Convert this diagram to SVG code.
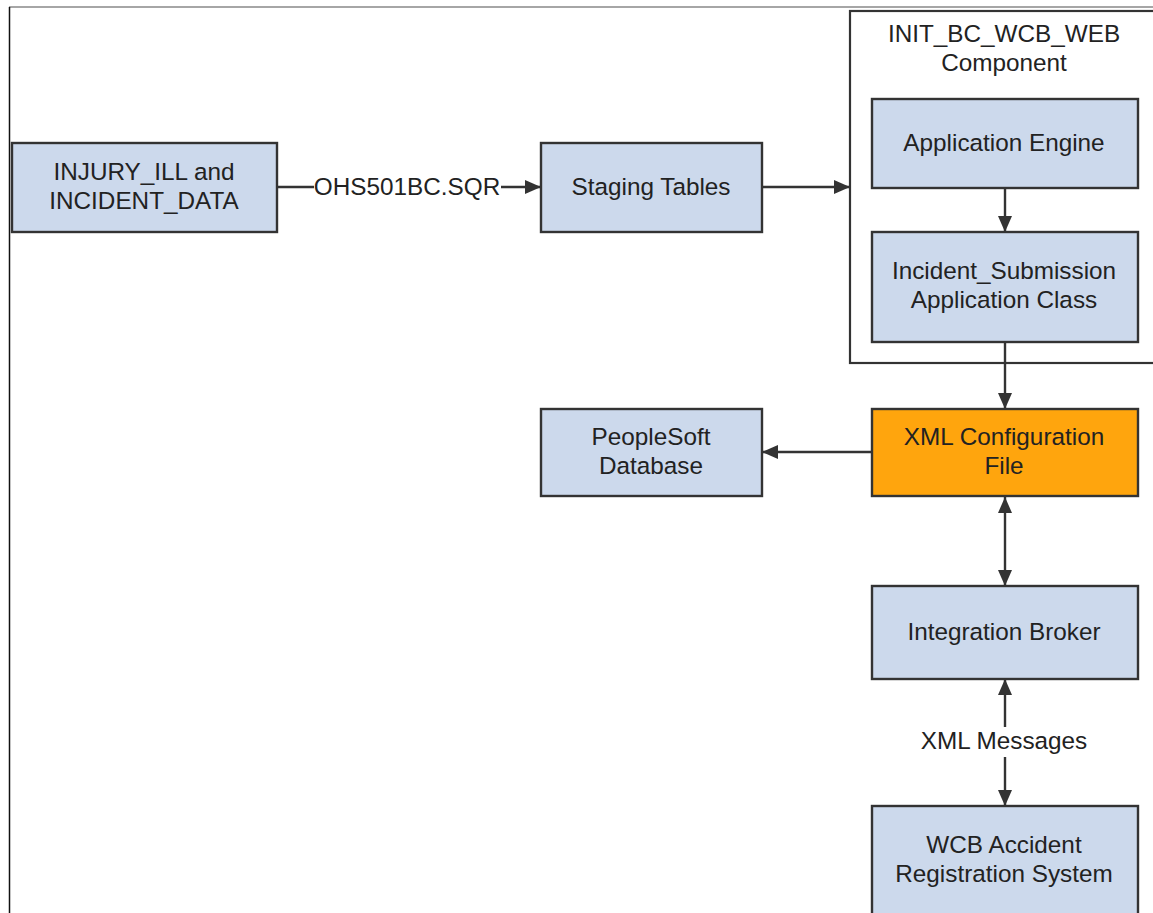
<svg xmlns="http://www.w3.org/2000/svg" width="1153" height="913" viewBox="0 0 1153 913">
<defs>
<style>
.box{fill:#ccd9ec;stroke:#333;stroke-width:2.4}
.hl{fill:#ffa50d;stroke:#333;stroke-width:2.4}
.frame{fill:#fff;stroke:#333;stroke-width:2.2}
.t{font-family:"Liberation Sans",Arial,sans-serif;font-size:24.3px;fill:#222;text-anchor:middle}
.ln{stroke:#333;stroke-width:2.4;fill:none}
</style>
<marker id="ah" markerWidth="16" markerHeight="14" refX="16" refY="7" orient="auto-start-reverse" markerUnits="userSpaceOnUse">
<path d="M0,0 L16,7 L0,14 Z" fill="#333"/>
</marker>
</defs>
<rect width="1153" height="913" fill="#fff"/>
<line x1="9" y1="7" x2="1153" y2="7" stroke="#888" stroke-width="1.5"/>
<line x1="9.5" y1="7" x2="9.5" y2="913" stroke="#111" stroke-width="1.5"/>

<g id="container">
<rect class="frame" x="850" y="11" width="310" height="352"/>
<text class="t" x="1004" y="42">INIT_BC_WCB_WEB</text>
<text class="t" x="1004" y="71">Component</text>
</g>

<g id="connectors">
<line class="ln" x1="277" y1="187" x2="314" y2="187"/>
<line class="ln" x1="501" y1="187" x2="541" y2="187" marker-end="url(#ah)"/>
<line class="ln" x1="762" y1="187" x2="850" y2="187" marker-end="url(#ah)"/>
<line class="ln" x1="1005" y1="188" x2="1005" y2="232" marker-end="url(#ah)"/>
<line class="ln" x1="1005" y1="342" x2="1005" y2="409" marker-end="url(#ah)"/>
<line class="ln" x1="872" y1="452" x2="762" y2="452" marker-end="url(#ah)"/>
<line class="ln" x1="1005" y1="497" x2="1005" y2="586" marker-start="url(#ah)" marker-end="url(#ah)"/>
<line class="ln" x1="1005" y1="679" x2="1005" y2="727" marker-start="url(#ah)"/>
<line class="ln" x1="1005" y1="757" x2="1005" y2="806" marker-end="url(#ah)"/>
<text class="t" x="407" y="195">OHS501BC.SQR</text>
<text class="t" x="1004" y="749">XML Messages</text>
</g>

<g id="injury">
<rect class="box" x="12" y="143" width="265" height="89"/>
<text class="t" x="144" y="180">INJURY_ILL and</text>
<text class="t" x="144" y="209">INCIDENT_DATA</text>
</g>
<g id="staging">
<rect class="box" x="541" y="143" width="221" height="89"/>
<text class="t" x="651" y="195">Staging Tables</text>
</g>
<g id="appengine">
<rect class="box" x="872" y="99" width="266" height="89"/>
<text class="t" x="1004" y="151">Application Engine</text>
</g>
<g id="incident">
<rect class="box" x="872" y="232" width="266" height="110"/>
<text class="t" x="1004" y="279">Incident_Submission</text>
<text class="t" x="1004" y="308">Application Class</text>
</g>
<g id="xmlconfig">
<rect class="hl" x="872" y="409" width="266" height="87"/>
<text class="t" x="1004" y="445">XML Configuration</text>
<text class="t" x="1004" y="474">File</text>
</g>
<g id="peoplesoft">
<rect class="box" x="541" y="409" width="221" height="87"/>
<text class="t" x="651" y="445">PeopleSoft</text>
<text class="t" x="651" y="474">Database</text>
</g>
<g id="broker">
<rect class="box" x="872" y="586" width="266" height="93"/>
<text class="t" x="1004" y="640">Integration Broker</text>
</g>
<g id="wcb">
<rect class="box" x="872" y="806" width="266" height="120"/>
<text class="t" x="1004" y="853">WCB Accident</text>
<text class="t" x="1004" y="882">Registration System</text>
</g>
</svg>
